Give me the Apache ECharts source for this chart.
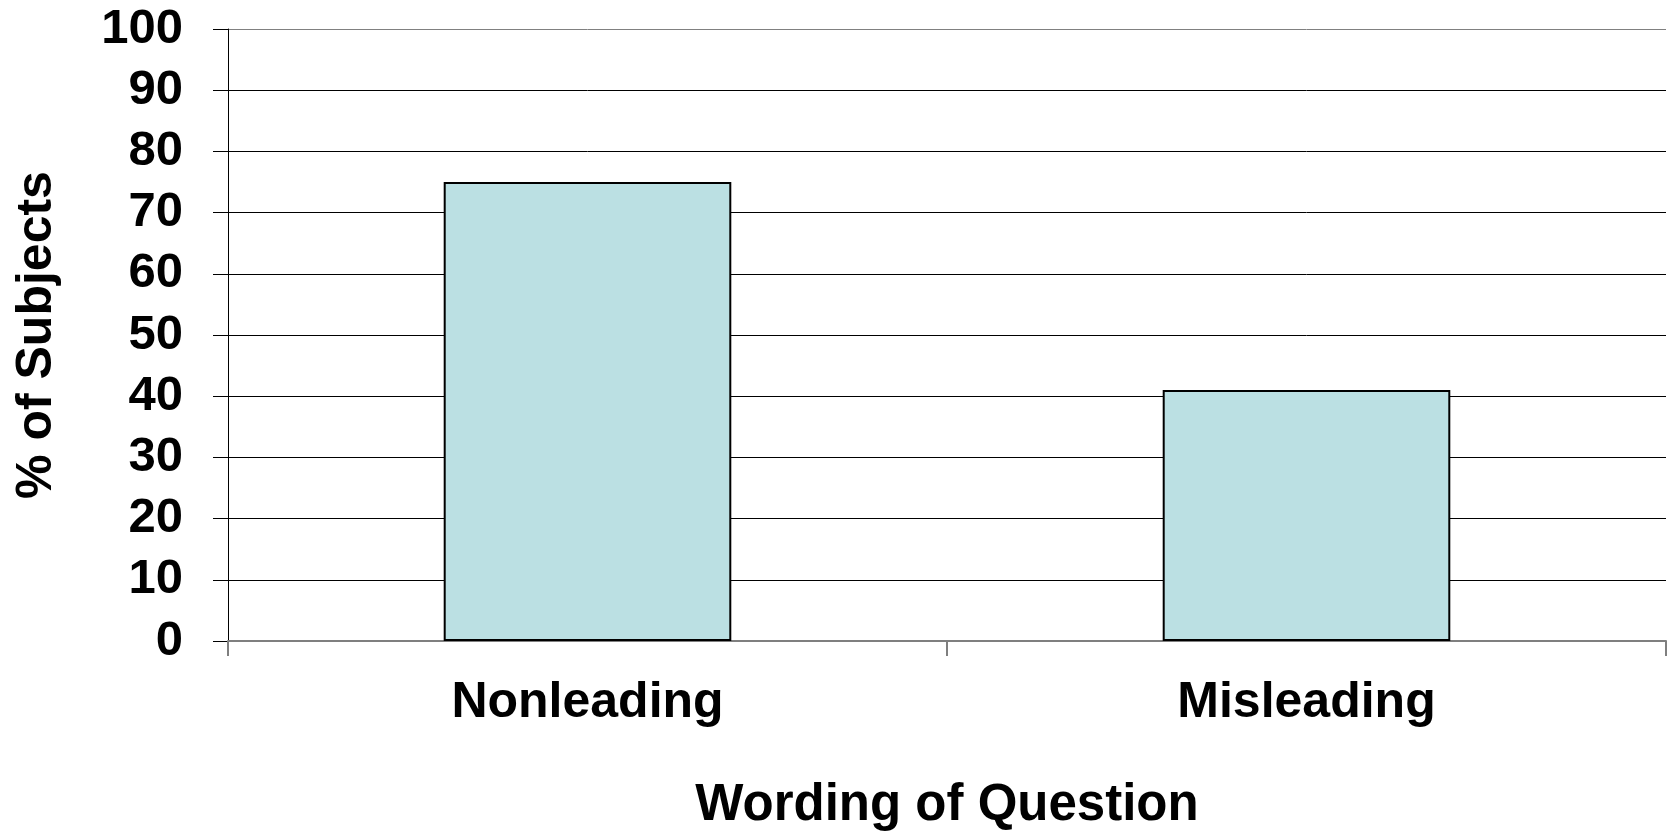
<!DOCTYPE html>
<html>
<head>
<meta charset="utf-8">
<title>% of Subjects by Wording of Question</title>
<script src="https://cdn.jsdelivr.net/npm/echarts@6/dist/echarts.min.js"></script>
<style>
  html, body { margin: 0; padding: 0; background: #ffffff; }
  #chart { width: 1671px; height: 832px; }
</style>
</head>
<body>
<div id="chart"></div>
<script>
// Question wording groups and share of subjects in each
const categories = ['Nonleading', 'Misleading'];
const percentSubjects = [75, 41];

// Value axis range and step
const yMin = 0;
const yMax = 100;
const yStep = 10;

const FONT = '"Liberation Sans", Arial, sans-serif';

// Grid lines: outer lines grey, inner ones black
const splitColors = [];
for (let v = yMin; v <= yMax; v += yStep) {
  splitColors.push(v === yMin || v === yMax ? '#808080' : '#000000');
}

const chart = echarts.init(document.getElementById('chart'), null, { renderer: 'canvas' });

chart.setOption({
  animation: false,
  backgroundColor: '#ffffff',
  grid: {
    left: 228, right: 5, top: 29, bottom: 191,
    containLabel: false,
    outerBoundsMode: 'none'
  },
  xAxis: {
    type: 'category',
    data: categories,
    name: 'Wording of Question',
    nameLocation: 'middle',
    nameGap: 139,
    nameTextStyle: { fontFamily: FONT, fontWeight: 'bold', fontSize: 51, color: '#000', verticalAlign: 'top' },
    axisLine: { show: true, lineStyle: { color: '#7f7f7f', width: 2 } },
    axisTick: { show: true, length: 15, inside: false, alignWithLabel: false, lineStyle: { color: '#7f7f7f', width: 2 } },
    axisLabel: { margin: 37, fontFamily: FONT, fontWeight: 'bold', fontSize: 50, color: '#000' },
    splitLine: { show: false }
  },
  yAxis: {
    type: 'value',
    min: yMin,
    max: yMax,
    interval: yStep,
    name: '% of Subjects',
    nameLocation: 'middle',
    nameGap: 166,
    nameRotate: 90,
    nameTextStyle: { fontFamily: FONT, fontWeight: 'bold', fontSize: 50, color: '#000' },
    axisLine: { show: true, lineStyle: { color: '#000', width: 1 } },
    axisTick: { show: true, length: 15, inside: false, lineStyle: { color: '#000', width: 1 } },
    axisLabel: { margin: 45, fontFamily: FONT, fontWeight: 'bold', fontSize: 49, color: '#000' },
    splitLine: { show: true, lineStyle: { color: splitColors, width: 1 } }
  },
  series: [{
    type: 'bar',
    data: percentSubjects,
    barWidth: '40%',
    itemStyle: { color: '#BBE0E3', borderColor: '#000000', borderWidth: 2 },
    label: { show: false }
  }]
});
</script>
</body>
</html>
